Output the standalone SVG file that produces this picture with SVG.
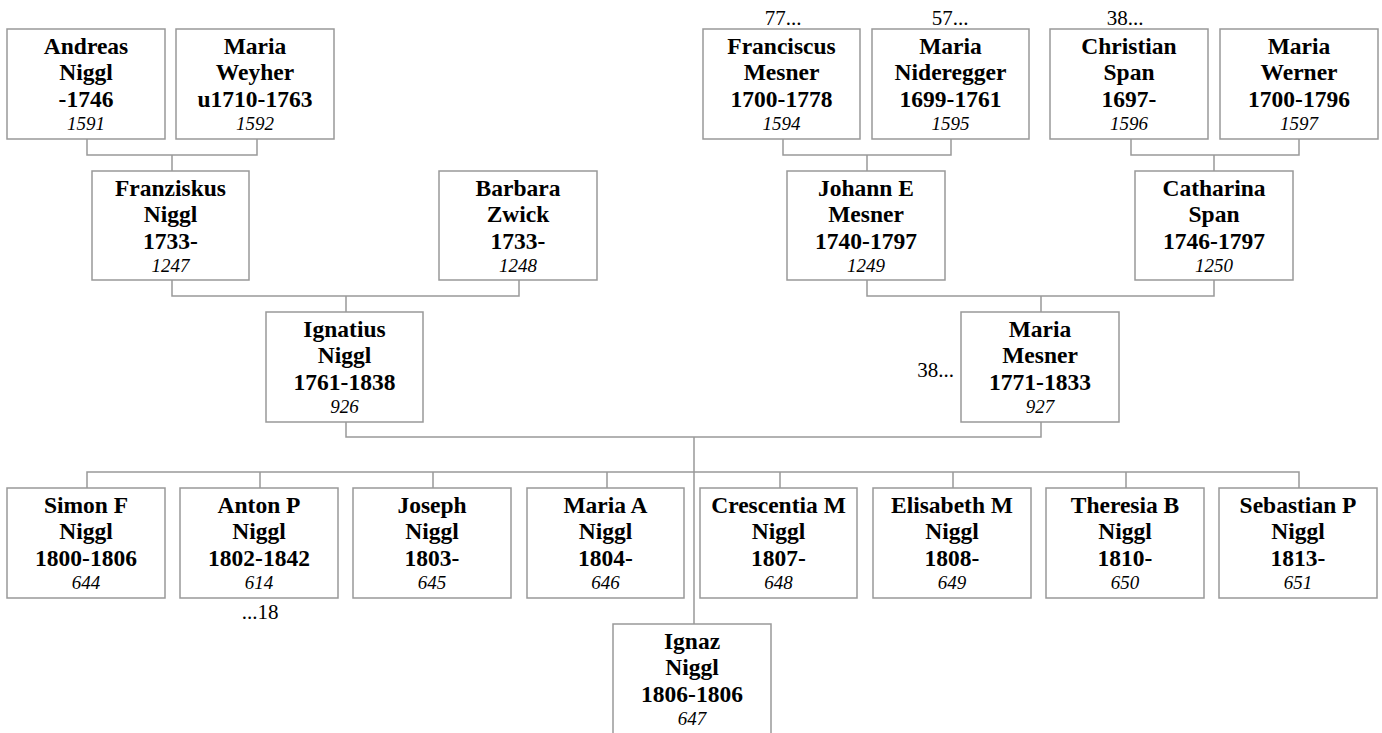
<svg xmlns="http://www.w3.org/2000/svg" width="1382" height="733" viewBox="0 0 1382 733">
<style>
rect.b{fill:#fff;stroke:#999;stroke-width:1.5}
.n{font-family:"Liberation Serif","Times New Roman",serif;font-weight:bold;font-size:23.5px;fill:#000;text-anchor:middle}
.i{font-family:"Liberation Serif","Times New Roman",serif;font-style:italic;font-size:19px;fill:#000;text-anchor:middle}
.x{font-family:"Liberation Serif","Times New Roman",serif;font-size:21px;fill:#000}
#conn path{fill:none;stroke:#999;stroke-width:1.5}
</style>
<rect width="1382" height="733" fill="#fff"/>
<g id="conn">
<path d="M87 139V155H257V139M172 155V171"/>
<path d="M783 139V155H951V139M867 155V171"/>
<path d="M1131 139V155H1299V139M1214 155V171"/>
<path d="M172 280V296H519V280M346 296V312"/>
<path d="M867 280V296H1214V280M1041 296V312"/>
<path d="M346 422V437H1041V422M694 437V624"/>
<path d="M87 488V472H1299V488M260 472V488M433 472V488M607 472V488M780 472V488M953 472V488M1126 472V488"/>
</g>
<g id="p1591"><rect class="b" x="7" y="29" width="158" height="110"/><text class="n" x="86" y="53.5">Andreas</text><text class="n" x="86" y="80">Niggl</text><text class="n" x="86" y="107">-1746</text><text class="i" x="86" y="129.5">1591</text></g>
<g id="p1592"><rect class="b" x="176" y="29" width="158" height="110"/><text class="n" x="255" y="53.5">Maria</text><text class="n" x="255" y="80">Weyher</text><text class="n" x="255" y="107">u1710-1763</text><text class="i" x="255" y="129.5">1592</text></g>
<g id="p1594"><rect class="b" x="703" y="29" width="157" height="110"/><text class="n" x="781.5" y="53.5">Franciscus</text><text class="n" x="781.5" y="80">Mesner</text><text class="n" x="781.5" y="107">1700-1778</text><text class="i" x="781.5" y="129.5">1594</text><text class="x" x="783" y="25" text-anchor="middle">77...</text></g>
<g id="p1595"><rect class="b" x="872" y="29" width="157" height="110"/><text class="n" x="950.5" y="53.5">Maria</text><text class="n" x="950.5" y="80">Nideregger</text><text class="n" x="950.5" y="107">1699-1761</text><text class="i" x="950.5" y="129.5">1595</text><text class="x" x="950" y="25" text-anchor="middle">57...</text></g>
<g id="p1596"><rect class="b" x="1050" y="29" width="158" height="110"/><text class="n" x="1129" y="53.5">Christian</text><text class="n" x="1129" y="80">Span</text><text class="n" x="1129" y="107">1697-</text><text class="i" x="1129" y="129.5">1596</text><text class="x" x="1125" y="25" text-anchor="middle">38...</text></g>
<g id="p1597"><rect class="b" x="1220" y="29" width="158" height="110"/><text class="n" x="1299" y="53.5">Maria</text><text class="n" x="1299" y="80">Werner</text><text class="n" x="1299" y="107">1700-1796</text><text class="i" x="1299" y="129.5">1597</text></g>
<g id="p1247"><rect class="b" x="92" y="171" width="157" height="109"/><text class="n" x="170.5" y="195.5">Franziskus</text><text class="n" x="170.5" y="222">Niggl</text><text class="n" x="170.5" y="249">1733-</text><text class="i" x="170.5" y="271.5">1247</text></g>
<g id="p1248"><rect class="b" x="439" y="171" width="158" height="109"/><text class="n" x="518" y="195.5">Barbara</text><text class="n" x="518" y="222">Zwick</text><text class="n" x="518" y="249">1733-</text><text class="i" x="518" y="271.5">1248</text></g>
<g id="p1249"><rect class="b" x="787" y="171" width="158" height="109"/><text class="n" x="866" y="195.5">Johann E</text><text class="n" x="866" y="222">Mesner</text><text class="n" x="866" y="249">1740-1797</text><text class="i" x="866" y="271.5">1249</text></g>
<g id="p1250"><rect class="b" x="1135" y="171" width="158" height="109"/><text class="n" x="1214" y="195.5">Catharina</text><text class="n" x="1214" y="222">Span</text><text class="n" x="1214" y="249">1746-1797</text><text class="i" x="1214" y="271.5">1250</text></g>
<g id="p926"><rect class="b" x="266" y="312" width="157" height="110"/><text class="n" x="344.5" y="336.5">Ignatius</text><text class="n" x="344.5" y="363">Niggl</text><text class="n" x="344.5" y="390">1761-1838</text><text class="i" x="344.5" y="412.5">926</text></g>
<g id="p927"><rect class="b" x="961" y="312" width="158" height="110"/><text class="n" x="1040" y="336.5">Maria</text><text class="n" x="1040" y="363">Mesner</text><text class="n" x="1040" y="390">1771-1833</text><text class="i" x="1040" y="412.5">927</text><text class="x" x="954" y="377" text-anchor="end">38...</text></g>
<g id="p644"><rect class="b" x="7" y="488" width="158" height="110"/><text class="n" x="86" y="512.5">Simon F</text><text class="n" x="86" y="539">Niggl</text><text class="n" x="86" y="566">1800-1806</text><text class="i" x="86" y="588.5">644</text></g>
<g id="p614"><rect class="b" x="180" y="488" width="158" height="110"/><text class="n" x="259" y="512.5">Anton P</text><text class="n" x="259" y="539">Niggl</text><text class="n" x="259" y="566">1802-1842</text><text class="i" x="259" y="588.5">614</text><text class="x" x="260" y="619" text-anchor="middle">...18</text></g>
<g id="p645"><rect class="b" x="353" y="488" width="158" height="110"/><text class="n" x="432" y="512.5">Joseph</text><text class="n" x="432" y="539">Niggl</text><text class="n" x="432" y="566">1803-</text><text class="i" x="432" y="588.5">645</text></g>
<g id="p646"><rect class="b" x="527" y="488" width="157" height="110"/><text class="n" x="605.5" y="512.5">Maria A</text><text class="n" x="605.5" y="539">Niggl</text><text class="n" x="605.5" y="566">1804-</text><text class="i" x="605.5" y="588.5">646</text></g>
<g id="p648"><rect class="b" x="700" y="488" width="157" height="110"/><text class="n" x="778.5" y="512.5">Crescentia M</text><text class="n" x="778.5" y="539">Niggl</text><text class="n" x="778.5" y="566">1807-</text><text class="i" x="778.5" y="588.5">648</text></g>
<g id="p649"><rect class="b" x="873" y="488" width="158" height="110"/><text class="n" x="952" y="512.5">Elisabeth M</text><text class="n" x="952" y="539">Niggl</text><text class="n" x="952" y="566">1808-</text><text class="i" x="952" y="588.5">649</text></g>
<g id="p650"><rect class="b" x="1046" y="488" width="158" height="110"/><text class="n" x="1125" y="512.5">Theresia B</text><text class="n" x="1125" y="539">Niggl</text><text class="n" x="1125" y="566">1810-</text><text class="i" x="1125" y="588.5">650</text></g>
<g id="p651"><rect class="b" x="1219" y="488" width="158" height="110"/><text class="n" x="1298" y="512.5">Sebastian P</text><text class="n" x="1298" y="539">Niggl</text><text class="n" x="1298" y="566">1813-</text><text class="i" x="1298" y="588.5">651</text></g>
<g id="p647"><rect class="b" x="613" y="624" width="158" height="115"/><text class="n" x="692" y="648.5">Ignaz</text><text class="n" x="692" y="675">Niggl</text><text class="n" x="692" y="702">1806-1806</text><text class="i" x="692" y="724.5">647</text></g>
</svg>
